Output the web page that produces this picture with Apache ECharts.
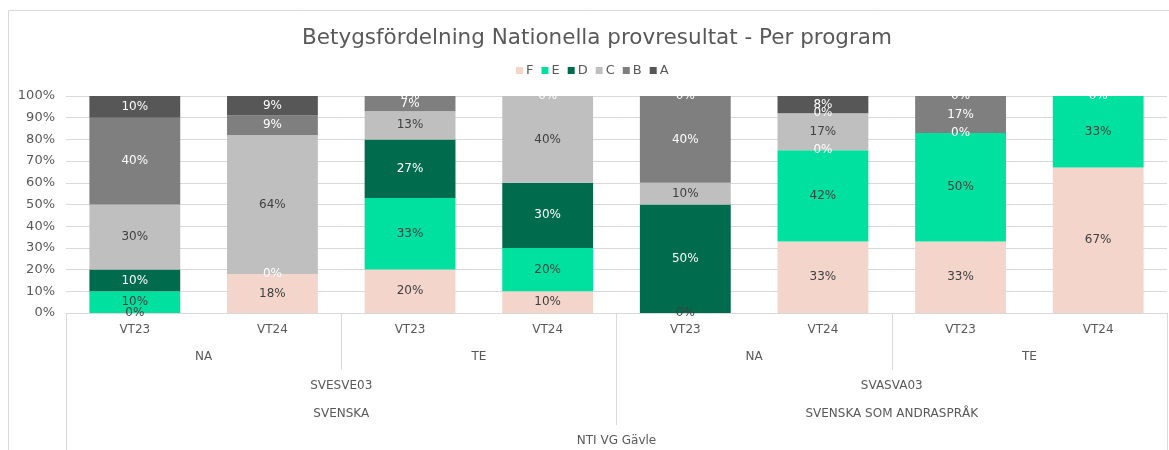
<!DOCTYPE html>
<html>
<head>
<meta charset="utf-8">
<script src="https://cdn.jsdelivr.net/npm/echarts@6/dist/echarts.min.js"></script>
<style>
  html, body { margin: 0; padding: 0; background: #fff; }
  #chart { width: 1169px; height: 450px; }
</style>
</head>
<body>
<div id="chart"></div>
<script>
// Category levels (innermost first)
const terms = ["VT23", "VT24", "VT23", "VT24", "VT23", "VT24", "VT23", "VT24"];
const programs = ["NA", "TE", "NA", "TE"];
const courses = ["SVESVE03\nSVENSKA", "SVASVA03\nSVENSKA SOM ANDRASPRÅK"];
const schools = ["NTI VG Gävle"];

// Grade shares in percent (null = grade not present)
const gradeF = [0, 18, 20, 10, 0, 33, 33, 67];
const gradeE = [10, null, 33, 20, null, 42, 50, 33];
const gradeD = [10, 0, 27, 30, 50, 0, 0, null];
const gradeC = [30, 64, 13, 40, 10, 17, null, null];
const gradeB = [40, 9, 7, null, 40, 0, 17, null];
const gradeA = [10, 9, 0, 0, 0, 8, 0, 0];

const FONT = "DejaVu Sans";
const TEXT = "#595959";
const LINE = "#D9D9D9";

const makeSeries = (name, data, color, labelColor) => ({
  name,
  type: "bar",
  stack: "total",
  barWidth: "66%",
  data,
  itemStyle: { color },
  label: {
    show: true,
    position: "inside",
    formatter: (p) => p.value + "%",
    color: labelColor,
    fontFamily: FONT,
    fontSize: 12,
  },
});

const chartDom = document.getElementById("chart");
const myChart = echarts.init(chartDom);

const option = {
  animation: false,
  textStyle: { fontFamily: FONT },
  title: {
    text: "Betygsfördelning Nationella provresultat - Per program",
    left: 297,
    top: 22,
    textStyle: { fontFamily: FONT, fontSize: 21.5, fontWeight: "normal", color: TEXT },
  },
  legend: {
    top: 59,
    left: 511,
    icon: "rect",
    itemWidth: 7,
    itemHeight: 7,
    itemGap: 8,
    textStyle: { fontFamily: FONT, fontSize: 13, color: TEXT, padding: [0, 0, 0, -2] },
  },
  graphic: [
    {
      type: "rect",
      shape: { x: 8.5, y: 10.5, width: 1300, height: 600 },
      style: { fill: "none", stroke: LINE, lineWidth: 1 },
      silent: true,
    },
  ],
  grid: { left: 66, right: 2, top: 96, bottom: 137 },
  xAxis: [
    {
      type: "category",
      data: terms,
      axisLine: { show: true, lineStyle: { color: LINE } },
      axisTick: { show: false },
      axisLabel: { color: TEXT, fontFamily: FONT, fontSize: 12, margin: 11, interval: 0 },
    },
    {
      type: "category",
      data: programs,
      position: "bottom",
      axisLine: { show: false },
      axisTick: { show: true, length: 57, interval: 0, lineStyle: { color: LINE } },
      axisLabel: { color: TEXT, fontFamily: FONT, fontSize: 12, margin: 38, interval: 0 },
    },
    {
      type: "category",
      data: courses,
      position: "bottom",
      axisLine: { show: false },
      axisTick: { show: true, length: 112, interval: 0, lineStyle: { color: LINE } },
      axisLabel: {
        color: TEXT, fontFamily: FONT, fontSize: 12, margin: 59, interval: 0, lineHeight: 28,
      },
    },
    {
      type: "category",
      data: schools,
      position: "bottom",
      axisLine: { show: false },
      axisTick: { show: true, length: 140, interval: 0, lineStyle: { color: LINE } },
      axisLabel: { color: TEXT, fontFamily: FONT, fontSize: 12, margin: 122, interval: 0 },
    },
  ],
  yAxis: {
    type: "value",
    min: 0,
    max: 100,
    interval: 10,
    axisLine: { show: false },
    axisTick: { show: false },
    splitLine: { lineStyle: { color: LINE } },
    axisLabel: { formatter: "{value}%", color: TEXT, fontFamily: FONT, fontSize: 13, margin: 11 },
  },
  series: [
    makeSeries("F", gradeF, "#F4D5CB", "#404040"),
    makeSeries("E", gradeE, "#00E09F", "#404040"),
    makeSeries("D", gradeD, "#016B4D", "#FFFFFF"),
    makeSeries("C", gradeC, "#BFBFBF", "#404040"),
    makeSeries("B", gradeB, "#7F7F7F", "#FFFFFF"),
    makeSeries("A", gradeA, "#575757", "#FFFFFF"),
  ],
};

option && myChart.setOption(option);
</script>
</body>
</html>
